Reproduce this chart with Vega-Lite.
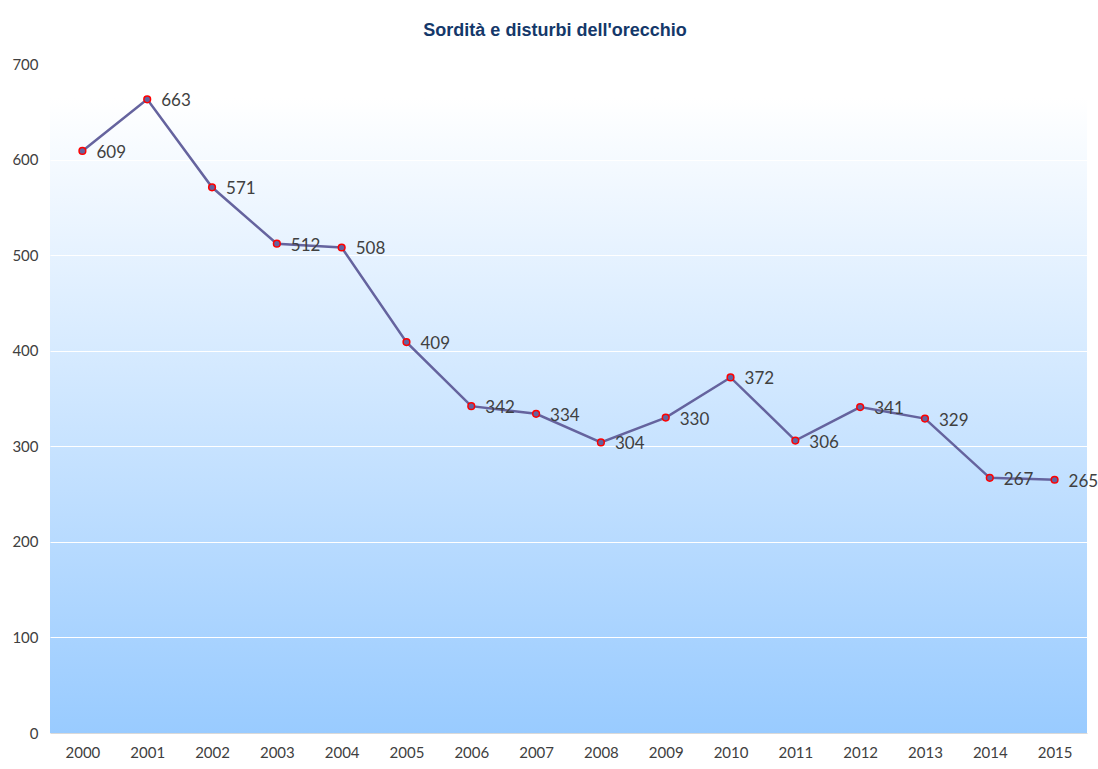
{
  "$schema": "https://vega.github.io/schema/vega-lite/v6.json",
  "width": 1037,
  "height": 669,
  "autosize": {"type": "none"},
  "padding": {"left": 50, "top": 64, "right": 11, "bottom": 36},
  "background": "#ffffff",
  "view": {
    "stroke": null,
    "fill": {
      "gradient": "linear",
      "x1": 0, "y1": 0, "x2": 0, "y2": 1,
      "stops": [
        {"offset": 0, "color": "#ffffff"},
        {"offset": 0.05, "color": "#ffffff"},
        {"offset": 1, "color": "#99CBFF"}
      ]
    }
  },
  "title": {
    "text": "Sordità e disturbi dell'orecchio",
    "font": "Liberation Sans",
    "fontSize": 18,
    "fontWeight": "bold",
    "color": "#14386A",
    "anchor": "middle",
    "frame": "bounds",
    "offset": 17
  },
  "data": {
    "values": [
      {"anno": "2000", "valore": 609},
      {"anno": "2001", "valore": 663},
      {"anno": "2002", "valore": 571},
      {"anno": "2003", "valore": 512},
      {"anno": "2004", "valore": 508},
      {"anno": "2005", "valore": 409},
      {"anno": "2006", "valore": 342},
      {"anno": "2007", "valore": 334},
      {"anno": "2008", "valore": 304},
      {"anno": "2009", "valore": 330},
      {"anno": "2010", "valore": 372},
      {"anno": "2011", "valore": 306},
      {"anno": "2012", "valore": 341},
      {"anno": "2013", "valore": 329},
      {"anno": "2014", "valore": 267},
      {"anno": "2015", "valore": 265}
    ]
  },
  "encoding": {
    "x": {
      "field": "anno",
      "type": "nominal",
      "scale": {"type": "point", "padding": 0.5},
      "axis": {
        "title": null,
        "labelAngle": 0,
        "labelFont": "Lato",
        "labelFontSize": 15,
        "labelColor": "#404040",
        "labelPadding": 12,
        "ticks": false,
        "domain": true,
        "domainColor": "#D9D9D9",
        "domainWidth": 1,
        "grid": false
      }
    },
    "y": {
      "field": "valore",
      "type": "quantitative",
      "scale": {"domain": [0, 700], "nice": false, "zero": true},
      "axis": {
        "title": null,
        "values": [0, 100, 200, 300, 400, 500, 600, 700],
        "labelFont": "Lato",
        "labelFontSize": 15,
        "labelColor": "#404040",
        "labelPadding": 12,
        "ticks": false,
        "domain": false,
        "grid": true,
        "gridColor": "#ffffff",
        "gridWidth": 1,
        "gridOpacity": 1
      }
    }
  },
  "layer": [
    {
      "mark": {"type": "line", "color": "#65639E", "strokeWidth": 2.5}
    },
    {
      "mark": {"type": "point", "filled": true, "fill": "#65639E", "stroke": "#FF0000", "strokeWidth": 1.5, "size": 45, "opacity": 1}
    },
    {
      "mark": {"type": "text", "align": "left", "baseline": "middle", "dx": 14, "dy": 2, "font": "Lato", "fontSize": 17, "color": "#404040"},
      "encoding": {"text": {"field": "valore", "type": "quantitative"}}
    }
  ]
}
